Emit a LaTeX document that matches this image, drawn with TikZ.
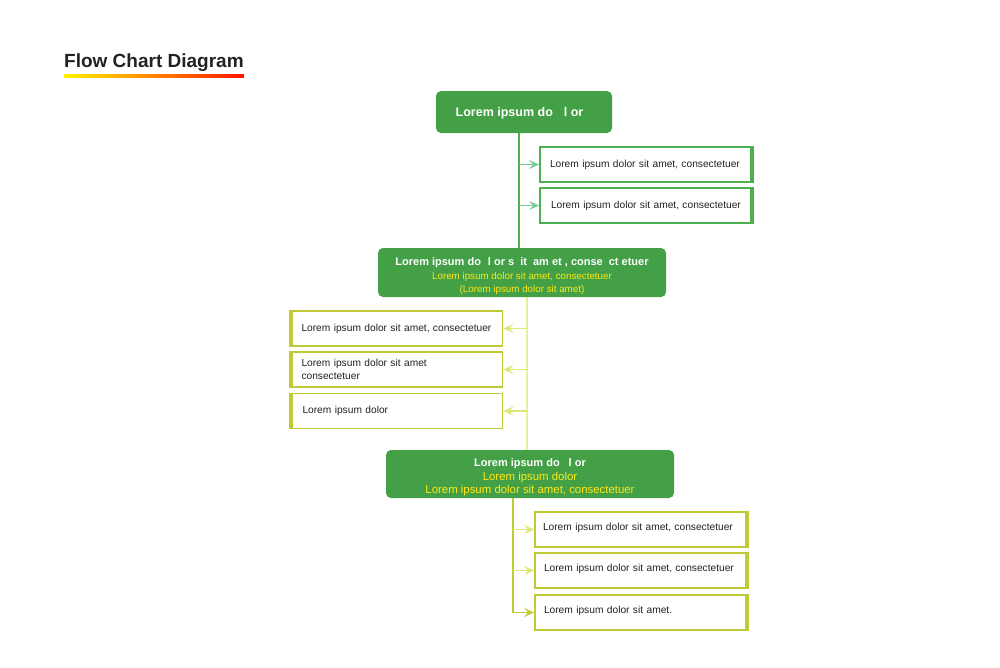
\documentclass[tikz,border=0pt]{standalone}
\usepackage{fontspec}
\setmainfont{Liberation Sans}
\usetikzlibrary{arrows.meta,positioning}
\definecolor{boxgreen}{HTML}{43A047}
\definecolor{linegreen}{HTML}{4CAF50}
\definecolor{mint}{HTML}{7ACB9C}
\definecolor{lime}{HTML}{C0CA33}
\definecolor{limesoft}{HTML}{DCE775}
\definecolor{limepale}{HTML}{E6EE9C}
\definecolor{lemon}{HTML}{FFE816}
\definecolor{ink}{HTML}{222222}
\newcommand{\subline}[1]{{\color{lemon}\fontsize{9.8}{13}\mdseries\selectfont #1}}
\newcommand{\bigsubline}[1]{{\color{lemon}\fontsize{11.4}{14}\mdseries\selectfont #1}}
\tikzstyle{head}=[rectangle, rounded corners=5pt, fill=boxgreen
,text=white, align=center, inner sep=0pt
,font=\fontsize{11}{14}\selectfont\bfseries
]
\tikzstyle{item}=[rectangle, draw, line width=1.8pt, fill=white
,minimum height=35pt, text width=195pt, inner xsep=8pt
,align=left, text=ink, font=\fontsize{10.2}{13}\selectfont
]
\tikzstyle{green item} = [item, draw=linegreen]
\tikzstyle{lime item} = [item, draw=lime]
\tikzstyle{tip} = [-{Stealth[length=10pt,width=9pt,inset=4pt]}, line width=1.2pt]

\begin{document}
\begin{tikzpicture}[x=1pt,y=-1pt]
    \useasboundingbox (0,0) rectangle (1000,667);
    % Title with its colour bar
    \node[anchor=west, inner sep=0pt, text=ink, font=\fontsize{19}{22}\selectfont\bfseries] (title) at (64,62.5) {Flow Chart Diagram};
    \shade[left color=yellow!90!orange, middle color=orange!80!yellow, right color=red!85!orange]
        (title.west |- 0,74) rectangle (title.east |- 0,77);

    % Green heads
    \node[head, minimum width=176pt, minimum height=42pt, font=\fontsize{12.5}{14}\selectfont\bfseries] (A) at (524,112)
        {\rule{0pt}{11pt}Lorem ipsum do\hspace{11pt}l or\hspace{9pt}};
    \node[head, minimum width=288pt, minimum height=49pt] (B) at (522,272.5)
        {\rule{0pt}{15pt}Lorem ipsum do\hspace{7pt}l or s\hspace{3pt} it\hspace{3pt} am et , conse\hspace{3pt} ct etuer\\[0.5pt]
         \subline{Lorem ipsum dolor sit amet, consectetuer}\\[-1pt]
         \subline{(Lorem ipsum dolor sit amet)}};
    \node[head, minimum width=288pt, minimum height=48pt] (C) at (530,474)
        {\rule{0pt}{15pt}Lorem ipsum do\hspace{9pt}l or\\[0pt]
         \bigsubline{Lorem ipsum dolor}\\[-1pt]
         \bigsubline{Lorem ipsum dolor sit amet, consectetuer}};

    % Item boxes
    \foreach \pos/\name/\txt in {{(645.5,164.5)/A1/\hspace{2pt}Lorem ipsum dolor sit amet, consectetuer},
                                 {(645.5,205.5)/A2/\hspace{3pt}Lorem ipsum dolor sit amet, consectetuer}}
        \node[green item] (\name) at \pos {\txt};
    \foreach \pos/\name/\txt in {{(397,328.5)/B1/\hspace{2pt}Lorem ipsum dolor sit amet, consectetuer},
                                 {(397,369.5)/B2/\hspace{2pt}Lorem ipsum dolor sit amet\\\hspace{2pt}consectetuer},
                                 {(397,411)/B3/\hspace{3pt}Lorem ipsum dolor}}
        \node[lime item] (\name) at \pos {\txt};
    \foreach \pos/\name/\txt in {{(640.5,529.5)/C1/Lorem ipsum dolor sit amet, consectetuer},
                                 {(640.5,570.5)/C2/\hspace{1pt}Lorem ipsum dolor sit amet, consectetuer},
                                 {(640.5,612.5)/C3/\hspace{1pt}Lorem ipsum dolor sit amet.}}
        \node[lime item, text depth=6pt] (\name) at \pos {\txt};

    % Thick outer sides
    \foreach \name in {A1, A2}
        \draw[linegreen, line width=4pt] (\name.north east) -- (\name.south east);
    \foreach \name in {B1, B2, B3}
        \draw[lime, line width=4pt] (\name.north west) -- (\name.south west);
    \foreach \name in {C1, C2, C3}
        \draw[lime, line width=4pt] (\name.north east) -- (\name.south east);

    % Trunks and branches
    \coordinate (tA) at (519,0);
    \coordinate (tB) at (527,0);
    \coordinate (tC) at (513,0);
    \draw[linegreen, line width=1.6pt] (A.south -| tA) -- (B.north -| tA);
    \foreach \dest in {A1, A2}
        \draw[tip, mint] (\dest.west -| tA) -- (\dest.west);
    \draw[limepale, line width=1.6pt] (B.south -| tB) -- (C.north -| tB);
    \foreach \dest in {B1, B2, B3}
        \draw[tip, limesoft] (\dest.east -| tB) -- (\dest.east);
    \draw[tip, lime, line width=1.6pt] (C.south -| tC) |- (C3.west);
    \foreach \dest in {C1, C2}
        \draw[tip, limesoft] (\dest.west -| tC) -- (\dest.west);
\end{tikzpicture}
\end{document}
